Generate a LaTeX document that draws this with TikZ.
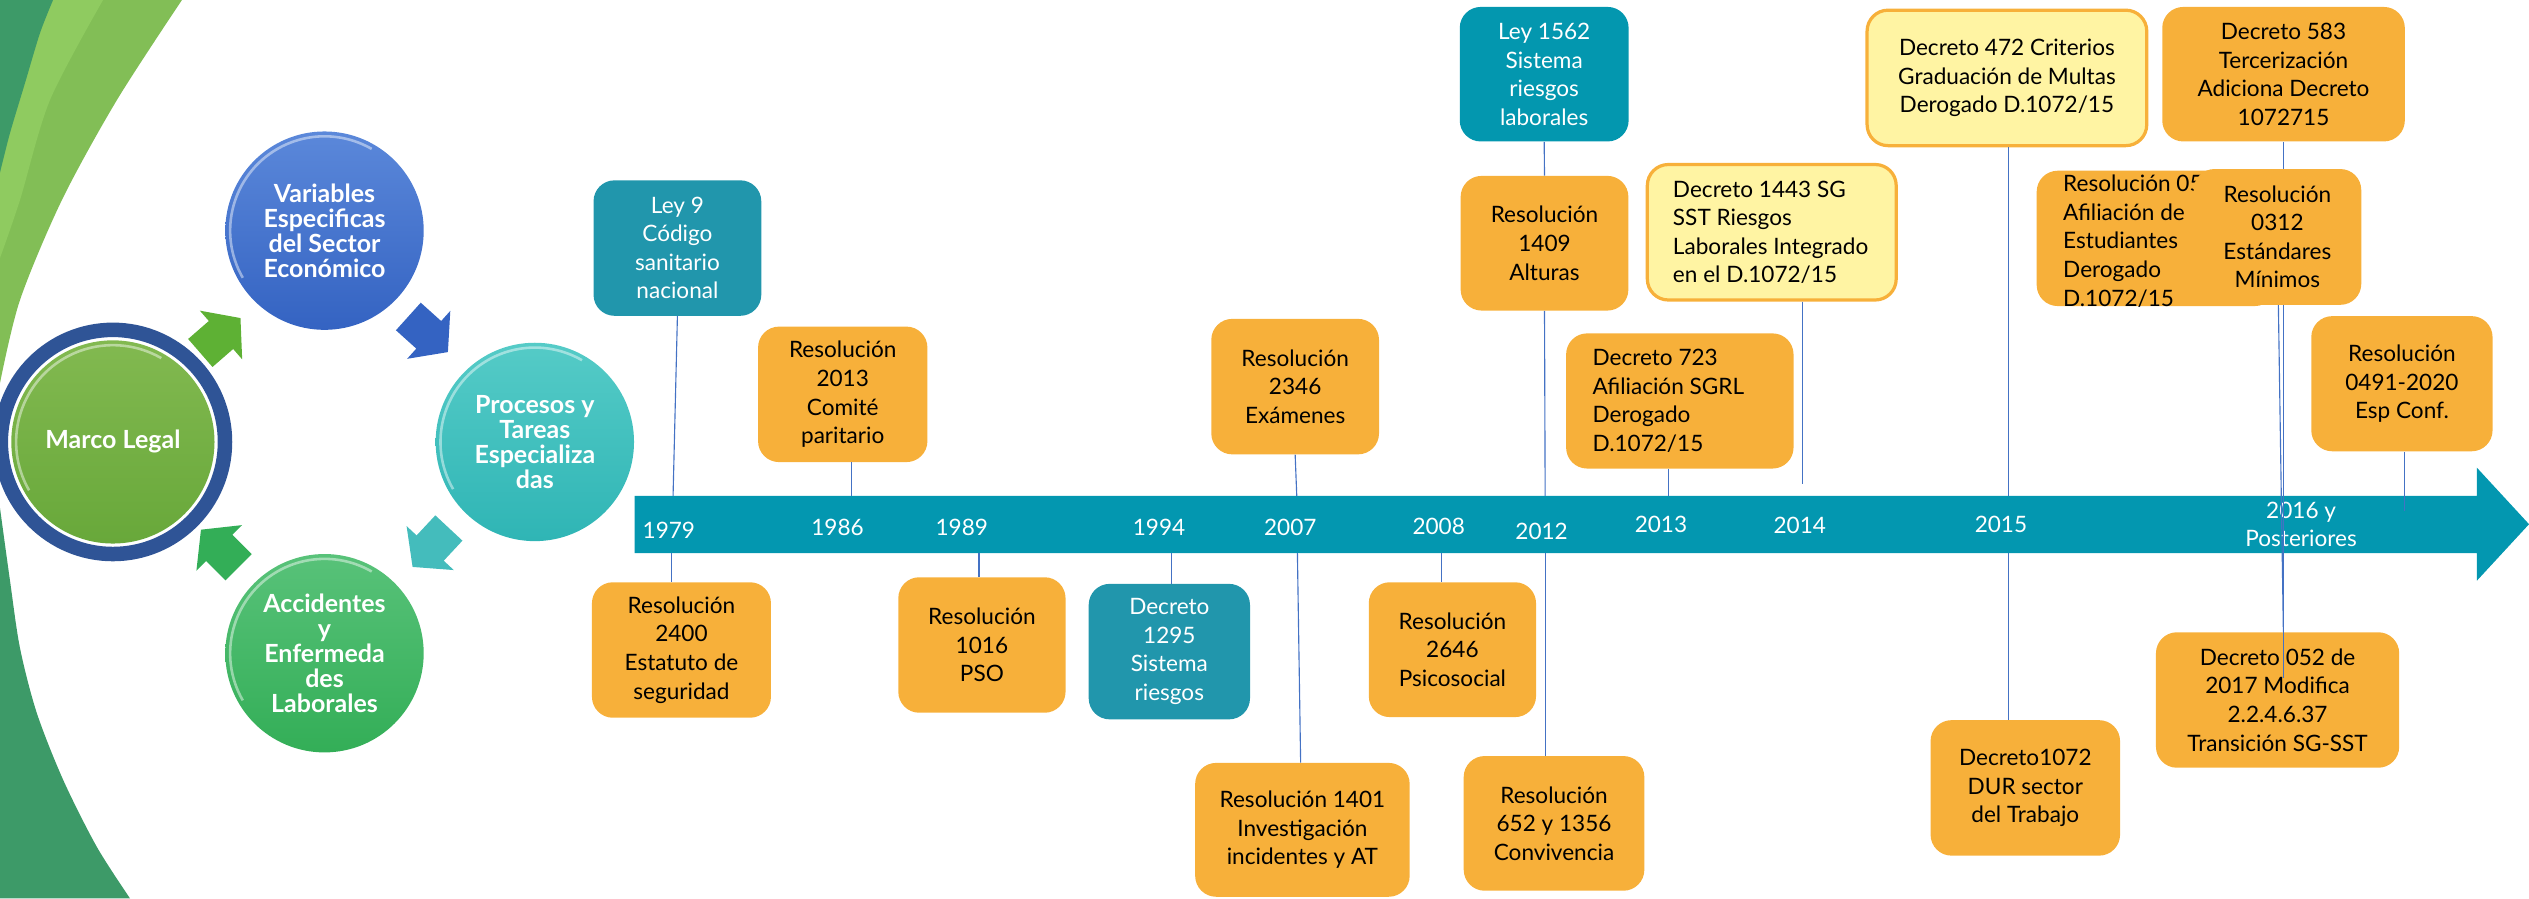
\documentclass[tikz,border=0pt]{standalone}
\usepackage{fontspec}
\setmainfont{Lato}
\definecolor{orangeF}{HTML}{F7B03A}
\definecolor{tealA}{HTML}{2196AC}
\definecolor{tealB}{HTML}{0397AF}
\definecolor{bandC}{HTML}{0397B0}
\definecolor{yellowF}{HTML}{FFF4A3}
\definecolor{connC}{HTML}{4472C4}
\definecolor{ringC}{HTML}{2F5496}
\definecolor{swD}{HTML}{3D9A68}
\definecolor{swB}{HTML}{8FCB60}
\definecolor{swM}{HTML}{82BE56}
\definecolor{varT}{HTML}{5B88DA}
\definecolor{varB}{HTML}{3463C2}
\definecolor{proT}{HTML}{55CBC7}
\definecolor{proB}{HTML}{2FB5B5}
\definecolor{accT}{HTML}{58C279}
\definecolor{accB}{HTML}{33AE57}
\definecolor{marT}{HTML}{82B950}
\definecolor{marB}{HTML}{68A83A}
\newcommand\boxfont{\fontsize{14}{17.7}\selectfont}
\newcommand\cycfont{\fontsize{15.5}{15.5}\selectfont\bfseries}
\newcommand\cyclearrow[4]{\fill[#4, shift={(#1,#2)}, rotate=#3] (0,0) -- (-16,20) -- (-16,11.5) -- (-33,11.5) -- (-33,-11.5) -- (-16,-11.5) -- (-16,-20) -- cycle;}
\newcommand\bevelrim[2]{\draw[white, opacity=0.45, line width=1.6pt] ([shift={(150:#2)}]#1.center) arc[start angle=150, end angle=300, radius=#2];}
\tikzset{
  tl/.style={rounded corners=13pt, inner sep=0pt, align=center, font=\boxfont, minimum height=84pt},
  obox/.style={tl, fill=orangeF, text=black},
  tbox/.style={tl, fill=tealA, text=white},
  ybox/.style={tl, fill=yellowF, draw=orangeF, line width=2pt, text=black},
  ltext/.style={anchor=west, align=left, inner sep=0pt, font=\boxfont, text=black},
  conn/.style={draw=connC, line width=0.7pt},
  yr/.style={text=white, font=\boxfont, inner sep=0pt, align=center},
  cyc/.style={circle, inner sep=0pt, minimum size=123pt, align=center, text=white, font=\cycfont},
}
\begin{document}
\begin{tikzpicture}[x=1pt,y=-1pt]
\useasboundingbox (0,0) rectangle (1568,557);
% background swoosh
\fill[swM] (0,0) -- plot[smooth] coordinates {(112.8,0)(72.5,62)(38.4,124)(12.4,186)(0,237.5)} -- cycle;
\fill[swB] (0,0) -- plot[smooth] coordinates {(63.9,0)(31,62)(12.4,124)(0,160)} -- cycle;
\fill[swD] (0,0) -- plot[smooth] coordinates {(32.9,0)(24.8,20.5)(15.5,51.5)(6.2,82.5)(0,107)} -- cycle;
\fill[swD] (0,557) -- plot[smooth] coordinates {(0,315)(6.2,360)(12.4,401.8)(22.8,442)(39.2,483.6)(60,525)(80.6,557)} -- cycle;

% cycle arrows
\cyclearrow{149.1}{197.2}{41}{marB!90!green}
\cyclearrow{277.7}{218.3}{-42}{varB}
\cyclearrow{255.8}{351.5}{-133}{proB!90!white}
\cyclearrow{124.6}{328.4}{135}{accB}

% cycle circles
\node[cyc, top color=varT, bottom color=varB] (var) at (201.2,143) {Variables\\Especificas\\del Sector\\Económico};
\node[cyc, top color=proT, bottom color=proB] (proc) at (331.6,274) {Procesos y\\Tareas\\Especializa\\das};
\node[cyc, top color=accT, bottom color=accB] (acc) at (201.2,405) {Accidentes\\y\\Enfermeda\\des\\Laborales};
\node[circle, draw=ringC, line width=9pt, minimum size=139pt, inner sep=0pt] (marcoring) at (70,274) {};
\node[cyc, minimum size=126pt, top color=marT, bottom color=marB] (marco) at (70,274) {Marco Legal};
\bevelrim{var}{58.5}
\bevelrim{proc}{58.5}
\bevelrim{acc}{58.5}
\bevelrim{marco}{60}

% line hidden behind the band
\node[ybox, minimum width=173.4pt] (d472) at (1244.3,48.3) {Decreto 472 Criterios\\Graduación de Multas\\Derogado D.1072/15};
\node[obox, minimum width=117.5pt] (d1072) at (1255.7,488.5) {Decreto1072\\DUR sector\\del Trabajo};
\draw[conn] ([xshift=0.7pt]d472.south) -- ([xshift=0.7pt]d472.south |- d1072.north);

% timeline band
\fill[bandC] (393.4,307.5) -- (1535.7,307.5) -- (1535.7,290) -- (1568,325) -- (1535.7,360) -- (1535.7,343) -- (393.4,343) -- cycle;
\foreach \n/\x/\y in {1979/414.7/328.6, 1986/519.3/326.7, 1989/596.3/326.7, 1994/718.6/326.7, 2007/800/326.7, 2008/892/326.5, 2012/955.8/329.5, 2013/1029.8/325, 2014/1115.9/326, 2015/1240.6/325}
  \node[yr] (y\n) at (\x,\y) {\n};
\node[yr] (y2016) at (1426.7,325) {2016 y\\Posteriores};

% band anchor points
\coordinate (t1979) at (417.3,307.5);
\coordinate (t1986) at (528,307.5);
\coordinate (t2007) at (804,307.5);
\coordinate (t2012) at (958,307.5);
\coordinate (t2013) at (1034.4,307.5);
\coordinate (e2014) at (1117.7,300);
\coordinate (e2020) at (1491,316.8);
\coordinate (e583) at (1415.5,420.4);
\coordinate (b1979) at (416.3,343);
\coordinate (b1989) at (607,343);
\coordinate (b1994) at (726.3,343);
\coordinate (b2007) at (804.4,343);
\coordinate (b2008) at (893.8,343);
\coordinate (b2012) at (958,343);

% top boxes
\node[tbox, minimum width=104pt] (ley9) at (420,153.8) {Ley 9\\Código\\sanitario\\nacional};
\node[obox, minimum width=105pt] (r2013) at (522.5,244.5) {Resolución\\2013\\Comité\\paritario};
\node[obox, minimum width=104pt] (r2346) at (803,239.7) {Resolución\\2346\\Exámenes};
\node[tbox, fill=tealB, minimum width=104.7pt, minimum height=83.4pt] (ley1562) at (957.4,46) {Ley 1562\\Sistema\\riesgos\\laborales};
\node[obox, minimum width=104pt, minimum height=83.5pt] (r1409) at (957.6,150.8) {Resolución\\1409\\Alturas};
\node[ybox, minimum width=154.3pt] (d1443) at (1098.5,144) {};
\node[ltext] (d1443t) at ([xshift=16.7pt]d1443.west) {Decreto 1443 SG\\SST Riesgos\\Laborales Integrado\\en el D.1072/15};
\node[obox, minimum width=141pt, minimum height=83.8pt] (d723) at (1041.5,248.6) {};
\node[ltext] (d723t) at ([xshift=16.4pt]d723.west) {Decreto 723\\Afiliación SGRL\\Derogado\\D.1072/15};
\node[obox, minimum width=150.4pt, minimum height=83.4pt] (d583) at (1415.8,46) {Decreto 583\\Tercerización\\Adiciona Decreto\\1072715};
\node[obox, minimum width=112.4pt, minimum height=83.8pt] (r0491) at (1489.2,237.9) {Resolución\\0491-2020\\Esp Conf.};

% bottom boxes
\node[obox, minimum width=111pt] (r2400) at (422.5,403) {Resolución\\2400\\Estatuto de\\seguridad};
\node[obox, minimum width=103.7pt] (r1016) at (608.8,399.9) {Resolución\\1016\\PSO};
\node[tbox, minimum width=100pt] (d1295) at (725,404) {Decreto\\1295\\Sistema\\riesgos};
\node[obox, minimum width=133pt, minimum height=83pt] (r1401) at (807.5,514.5) {Resolución 1401\\Investigación\\incidentes y AT};
\node[obox, minimum width=103.7pt, minimum height=83.6pt] (r2646) at (900.5,402.8) {Resolución\\2646\\Psicosocial};
\node[obox, minimum width=112pt, minimum height=83.5pt] (r652) at (963.5,510.5) {Resolución\\652 y 1356\\Convivencia};
\node[obox, minimum width=150.8pt] (d052) at (1412.1,434) {Decreto 052 de\\2017 Modifica\\2.2.4.6.37\\Transición SG-SST};

% connectors
\draw[conn] (ley9.south) -- (t1979);
\draw[conn] (r2013.south -| t1986) -- (t1986);
\draw[conn] (r2346.south) -- (t2007);
\draw[conn] (ley1562.south) -- (r1409.north);
\draw[conn] (r1409.south) -- (t2012);
\draw[conn] (d1443.south -| e2014) -- (e2014);
\draw[conn] (d723.south -| t2013) -- (t2013);
\draw[conn] (r0491.south -| e2020) -- (e2020);
\draw[conn] (b1979) -- (b1979 |- r2400.north);
\draw[conn] (b1989) -- (b1989 |- r1016.north);
\draw[conn] (b1994) -- (b1994 |- d1295.north);
\draw[conn] (b2007) -- ([xshift=-1.1pt]r1401.north);
\draw[conn] (b2008) -- (b2008 |- r2646.north);
\draw[conn] (b2012) -- (b2012 |- r652.north);
\draw[conn] (d583.south -| e583) -- (e583);

% overlapping boxes
\node[obox, minimum width=148.3pt, minimum height=83.9pt] (r05) at (1336.9,147.8) {};
\node[ltext] (r05t) at (1279,149.5) {Resolución 055\\Afiliación de\\Estudiantes\\Derogado\\D.1072/15};
\node[obox, minimum width=104pt, minimum height=84.2pt] (r0312) at (1412,146.9) {Resolución\\0312\\Estándares\\Mínimos};
\draw[conn] ([xshift=0.6pt]r0312.south) -- ([xshift=3.6pt]d052.north);
\end{tikzpicture}
\end{document}
